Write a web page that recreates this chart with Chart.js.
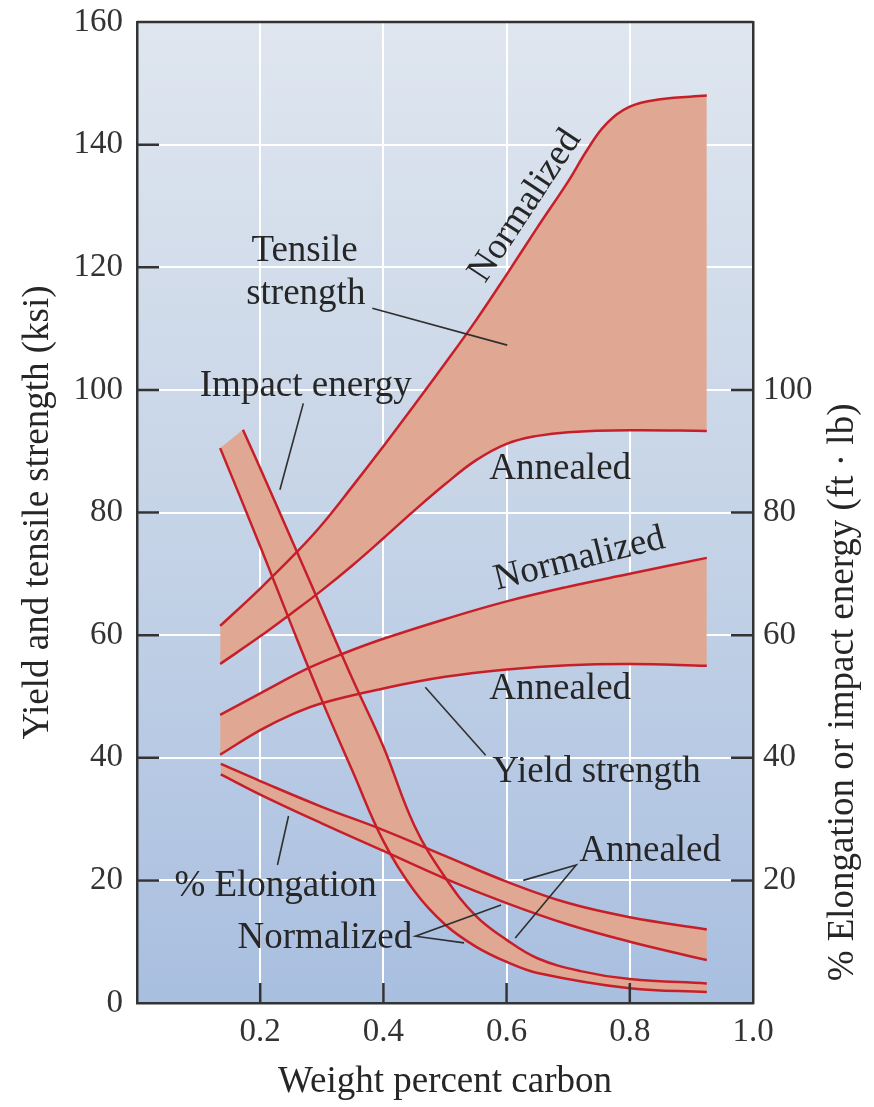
<!DOCTYPE html>
<html>
<head>
<meta charset="utf-8">
<script src="https://cdn.jsdelivr.net/npm/chart.js@4.4.0/dist/chart.umd.min.js"></script>
<style>
  html, body { margin: 0; padding: 0; background: #fff; }
</style>
</head>
<body>
<canvas id="carbonChart" width="874" height="1107"></canvas>
<script>
/* ================================================
   DATA  (x = weight percent carbon)
================================================ */
const tensileNormC = [0.135, 0.2, 0.26, 0.3, 0.35, 0.4, 0.45, 0.5, 0.55, 0.6, 0.65, 0.7, 0.73, 0.76, 0.8, 0.85, 0.925];
const tensileNormV = [61.5, 67.6, 73.6, 78, 84.3, 90.8, 97.5, 104.3, 111.3, 118.8, 126.5, 134, 139, 143.2, 146.2, 147.4, 148];

const tensileAnnC  = [0.135, 0.2, 0.25, 0.3, 0.35, 0.4, 0.45, 0.5, 0.55, 0.6, 0.65, 0.7, 0.8, 0.925];
const tensileAnnV  = [55.3, 59.8, 63.5, 67.3, 71.4, 75.8, 80.3, 84.6, 88.5, 91.2, 92.5, 93.1, 93.4, 93.3];

const yieldNormC   = [0.135, 0.2, 0.278, 0.335, 0.4, 0.5, 0.6, 0.7, 0.8, 0.925];
const yieldNormV   = [47, 50.5, 54.6, 57, 59.4, 62.6, 65.5, 67.9, 70, 72.6];

const yieldAnnC    = [0.135, 0.2, 0.25, 0.3, 0.4, 0.5, 0.6, 0.7, 0.8, 0.925];
const yieldAnnV    = [40.5, 44.5, 47, 48.9, 51.3, 53.2, 54.4, 55.1, 55.3, 55];

const elongAnnC    = [0.136, 0.2, 0.3, 0.4, 0.5, 0.6, 0.7, 0.8, 0.925];
const elongAnnV    = [39, 36.2, 32, 28.2, 24, 19.8, 16.3, 14, 12];

const elongNormC   = [0.136, 0.2, 0.3, 0.4, 0.5, 0.6, 0.7, 0.8, 0.925];
const elongNormV   = [37.3, 34, 29.3, 24.8, 20.3, 16.3, 12.8, 10, 7];

const impactUpC    = [0.172, 0.2, 0.25, 0.3, 0.35, 0.4, 0.45, 0.5, 0.55, 0.6, 0.65, 0.72, 0.8, 0.925];
const impactUpV    = [93.5, 87.2, 75.8, 64.3, 52.8, 41.8, 29, 20.5, 14.2, 10.3, 7.3, 5.2, 3.9, 3.2];

const impactLowC   = [0.135, 0.2, 0.25, 0.3, 0.35, 0.4, 0.45, 0.5, 0.55, 0.6, 0.65, 0.8, 0.925];
const impactLowV   = [90.5, 74.5, 61.8, 49.4, 37.8, 26.4, 18.3, 12.8, 9.2, 6.7, 4.9, 2.4, 1.8];

// cut-off top of the impact-energy band
const impactCapC   = [0.135, 0.172];
const impactCapV   = [90.5, 93.5];

const xTicks  = [0.2, 0.4, 0.6, 0.8, 1.0];
const yTicks  = [0, 20, 40, 60, 80, 100, 120, 140, 160];
const y2Ticks = [20, 40, 60, 80, 100];

/* ================================================
   STYLE
================================================ */
const RED   = '#c71f2a';
const BAND  = '#e0a792';
const INK   = '#262626';
const SERIF = '"Liberation Serif", "DejaVu Serif", serif';

function pts(xs, ys) { return xs.map((x, i) => ({ x, y: ys[i] })); }

function edge(label, xs, ys, axis, fill, width) {
  return {
    label,
    data: pts(xs, ys),
    yAxisID: axis,
    borderColor: RED,
    borderWidth: width === undefined ? 2.5 : width,
    backgroundColor: BAND,
    pointRadius: 0,
    tension: 0.4,
    fill,
  };
}

/* ================================================
   PLUGINS
================================================ */
const plotBackground = {
  id: 'plotBackground',
  beforeDraw(chart) {
    const { ctx, chartArea: a } = chart;
    const g = ctx.createLinearGradient(0, a.top, 0, a.bottom);
    g.addColorStop(0, '#dfe6ef');
    g.addColorStop(0.5, '#c6d4e7');
    g.addColorStop(1, '#a9bfe0');
    ctx.save();
    ctx.fillStyle = g;
    ctx.fillRect(a.left, a.top, a.width, a.height);
    ctx.restore();
  },
};

const frameTicks = {
  id: 'frameTicks',
  afterDraw(chart) {
    const { ctx, chartArea: a, scales } = chart;
    ctx.save();
    ctx.strokeStyle = '#333';
    ctx.lineWidth = 2.5;
    ctx.beginPath();
    ctx.moveTo(a.left, a.top);
    ctx.lineTo(a.right, a.top);
    yTicks.filter(v => v > 0 && v < 160).forEach(v => {
      const y = scales.y.getPixelForValue(v);
      ctx.moveTo(a.left, y); ctx.lineTo(a.left + 22, y);
    });
    y2Ticks.forEach(v => {
      const y = scales.y2.getPixelForValue(v);
      ctx.moveTo(a.right, y); ctx.lineTo(a.right - 22, y);
    });
    xTicks.filter(v => v < 1).forEach(v => {
      const x = scales.x.getPixelForValue(v);
      ctx.moveTo(x, a.bottom); ctx.lineTo(x, a.bottom - 20);
    });
    ctx.stroke();

    // right axis title reads bottom-to-top
    ctx.fillStyle = INK;
    ctx.font = '37px ' + SERIF;
    ctx.textAlign = 'center';
    ctx.textBaseline = 'middle';
    ctx.translate(843, (scales.y2.getPixelForValue(100) + a.bottom) / 2 - 4);
    ctx.rotate(-Math.PI / 2);
    ctx.fillText('% Elongation or impact energy (ft \u00b7 lb)', 0, 0);
    ctx.restore();
  },
};

const notes = [
  { text: 'Tensile',        x: 0.272, y: 122.6 },
  { text: 'strength',       x: 0.274, y: 115.6 },
  { text: 'Normalized',     x: 0.630, y: 130.0, rot: -56.5 },
  { text: 'Impact energy',  x: 0.274, y: 100.6 },
  { text: 'Annealed',       x: 0.687, y: 87.1 },
  { text: 'Normalized',     x: 0.718, y: 72.4, rot: -14 },
  { text: 'Annealed',       x: 0.687, y: 51.1 },
  { text: 'Yield strength', x: 0.746, y: 37.6 },
  { text: '% Elongation',   x: 0.225, y: 19.0 },
  { text: 'Annealed',       x: 0.833, y: 24.8 },
  { text: 'Normalized',     x: 0.305, y: 10.6 },
];

const leaders = [
  [[0.382, 113.3], [0.601, 107.3]],
  [[0.270, 97.8],  [0.232, 83.7]],
  [[0.468, 51.5],  [0.566, 40.4]],
  [[0.246, 30.5],  [0.228, 22.5]],
  [[0.627, 20.0],  [0.713, 22.5], [0.614, 10.6]],
  [[0.591, 16.0],  [0.452, 10.9], [0.531, 9.8]],
];

const annotations = {
  id: 'annotations',
  afterDatasetsDraw(chart) {
    const { ctx, scales } = chart;
    const px = v => scales.x.getPixelForValue(v);
    const py = v => scales.y.getPixelForValue(v);
    ctx.save();
    ctx.strokeStyle = '#2f2f2f';
    ctx.lineWidth = 1.6;
    leaders.forEach(path => {
      ctx.beginPath();
      path.forEach(([x, y], i) => i ? ctx.lineTo(px(x), py(y)) : ctx.moveTo(px(x), py(y)));
      ctx.stroke();
    });
    ctx.fillStyle = INK;
    ctx.font = '37px ' + SERIF;
    ctx.textAlign = 'center';
    ctx.textBaseline = 'middle';
    notes.forEach(n => {
      ctx.save();
      ctx.translate(px(n.x), py(n.y));
      if (n.rot) ctx.rotate(n.rot * Math.PI / 180);
      ctx.fillText(n.text, 0, 0);
      ctx.restore();
    });
    ctx.restore();
  },
};

/* ================================================
   CHART
================================================ */
const tickFont  = { family: SERIF, size: 33 };
const titleFont = { family: SERIF, size: 37 };

// keep the plot box fixed: scale widths set here, label overflow ignored
function fixWidth(w) {
  return s => { s.width = w; s.paddingTop = 0; s.paddingBottom = 0; };
}

new Chart(document.getElementById('carbonChart'), {
  type: 'line',
  data: {
    datasets: [
      edge('Tensile strength, annealed',   tensileAnnC,  tensileAnnV,  'y',  false),
      edge('Tensile strength, normalized', tensileNormC, tensileNormV, 'y',  0),
      edge('Yield strength, annealed',     yieldAnnC,    yieldAnnV,    'y',  false),
      edge('Yield strength, normalized',   yieldNormC,   yieldNormV,   'y',  2),
      edge('% Elongation, normalized',     elongNormC,   elongNormV,   'y2', false),
      edge('% Elongation, annealed',       elongAnnC,    elongAnnV,    'y2', 4),
      edge('Impact energy, normalized',    impactLowC,   impactLowV,   'y2', false),
      edge('Impact energy, annealed',      impactUpC,    impactUpV,    'y2', 6),
      edge('Impact energy cap',            impactCapC,   impactCapV,   'y2', 6, 0),
    ],
  },
  options: {
    responsive: false,
    animation: false,
    layout: { padding: { top: 22 } },
    plugins: {
      legend: { display: false },
      tooltip: { enabled: false },
      filler: { drawTime: 'beforeDatasetsDraw' },
    },
    scales: {
      x: {
        type: 'linear', min: 0, max: 1,
        afterFit: s => { s.height = 104; },
        afterBuildTicks: s => { s.ticks = [0, ...xTicks].map(v => ({ value: v })); },
        ticks: {
          padding: 10, font: tickFont, color: '#333', maxRotation: 0, autoSkip: false,
          callback: v => v === 0 ? '' : v.toFixed(1),
        },
        grid: { color: '#ffffff', lineWidth: 2, drawTicks: false },
        border: { color: '#333', width: 2.5 },
        title: { display: true, text: 'Weight percent carbon', font: titleFont, color: INK, padding: { bottom: 3 } },
      },
      y: {
        min: 0, max: 160,
        afterFit: fixWidth(137),
        afterBuildTicks: s => { s.ticks = yTicks.map(v => ({ value: v })); },
        ticks: { padding: 14, font: tickFont, color: '#333' },
        grid: { color: '#ffffff', lineWidth: 2, drawTicks: false },
        border: { color: '#333', width: 2.5 },
        title: { display: true, text: 'Yield and tensile strength (ksi)', font: titleFont, color: INK, padding: { top: 16 } },
      },
      y2: {
        position: 'right', min: 0, max: 160,
        afterFit: fixWidth(121),
        afterBuildTicks: s => { s.ticks = y2Ticks.map(v => ({ value: v })); },
        ticks: { padding: 10, font: tickFont, color: '#333' },
        grid: { display: false, drawTicks: false },
        border: { color: '#333', width: 2.5 },
      },
    },
  },
  plugins: [plotBackground, frameTicks, annotations],
});
</script>
</body>
</html>
